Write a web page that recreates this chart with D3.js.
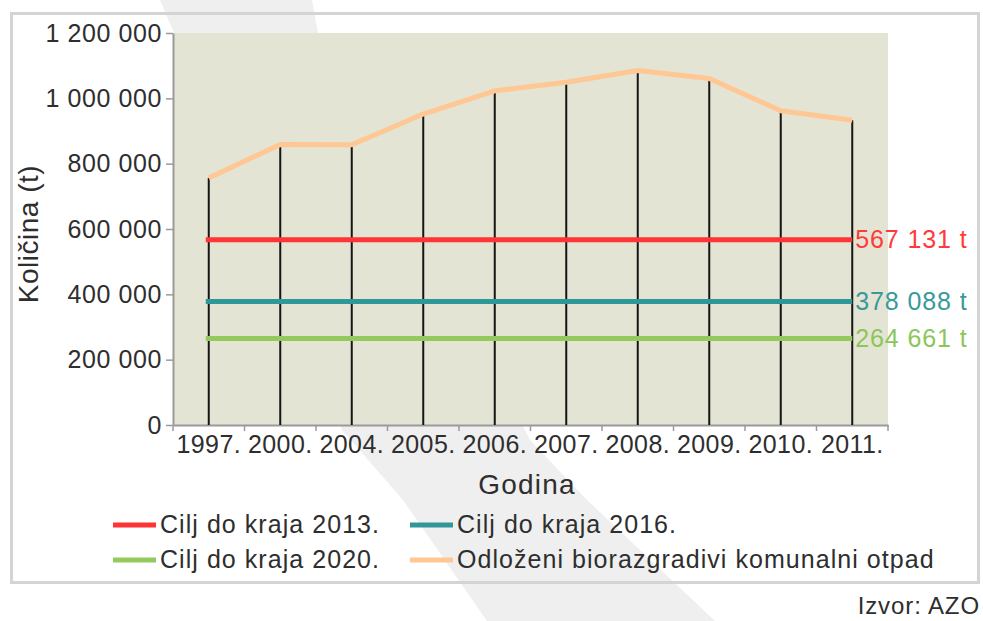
<!DOCTYPE html>
<html>
<head>
<meta charset="utf-8">
<script src="https://cdn.jsdelivr.net/npm/d3@7"></script>
<style>
  body { margin: 0; background: #fff; }
  svg { display: block; font-family: "Liberation Sans", Arial, sans-serif; }
</style>
</head>
<body>
<script>
// data
const years = ['1997.', '2000.', '2004.', '2005.', '2006.', '2007.', '2008.', '2009.', '2010.', '2011.'];
const otpad = [756000, 859000, 858000, 952000, 1023000, 1049000, 1085000, 1061000, 962000, 933000];
const targetNames = ['Cilj do kraja 2013.', 'Cilj do kraja 2016.', 'Cilj do kraja 2020.'];
const targetValues = [567131, 378088, 264661];
const targetLabels = ['567 131 t', '378 088 t', '264 661 t'];
const yTicks = [0, 200000, 400000, 600000, 800000, 1000000, 1200000];
const otpadName = 'Odloženi biorazgradivi komunalni otpad';

const W = 983, H = 621;
const plotL = 173, plotR = 888, plotT = 33, plotB = 425;
const targetColors = ['#ff3535', '#2f9797', '#95c95e'];
const labelColors = ['#ff3a3a', '#3a9999', '#8cc65a'];
const otpadColor = '#fec794';
const textColor = '#2e2e2e';

const svg = d3.select('body')
  .append('svg')
  .attr('width', W)
  .attr('height', H);

// watermark stripe in the background
svg.append('path')
  .attr('d', 'M160,0 L312,0 L318,33 L530,440 L587,500 L715,621 L487,621 L403,500 L342,430 Z')
  .attr('fill', '#efefef');

// outer frame
svg.append('rect')
  .attr('x', 11.5)
  .attr('y', 13.5)
  .attr('width', 967)
  .attr('height', 569)
  .attr('fill', 'none')
  .attr('stroke', '#d4d4d4')
  .attr('stroke-width', 3);

// plot background
svg.append('rect')
  .attr('x', plotL)
  .attr('y', plotT)
  .attr('width', plotR - plotL)
  .attr('height', plotB - plotT)
  .attr('fill', '#e4e4d4');

const x = d3.scaleBand()
  .domain(years)
  .range([plotL, plotR])
  .padding(0);

const y = d3.scaleLinear()
  .domain([0, 1200000])
  .range([plotB, plotT]);

const xc = d => x(d) + x.bandwidth() / 2;

// y axis
const yAxis = svg.append('g')
  .attr('transform', `translate(${plotL},0)`)
  .call(d3.axisLeft(y)
    .tickValues(yTicks)
    .tickSize(7)
    .tickSizeOuter(0)
    .tickPadding(4)
    .tickFormat(d => d3.format(',')(d).replace(/,/g, ' ')));
yAxis.select('.domain').attr('stroke', '#9a9a9a').attr('stroke-width', 2);
yAxis.selectAll('.tick line').attr('stroke', '#9a9a9a').attr('stroke-width', 1.5);
yAxis.selectAll('.tick text')
  .attr('fill', textColor)
  .attr('font-size', 25)
  .attr('letter-spacing', 0.6);

// x axis
const xAxis = svg.append('g')
  .attr('transform', `translate(0,${plotB})`)
  .call(d3.axisBottom(x)
    .tickSize(0)
    .tickSizeOuter(0)
    .tickPadding(10));
xAxis.select('.domain').attr('stroke', '#9a9a9a').attr('stroke-width', 2);
xAxis.selectAll('.tick text')
  .attr('fill', textColor)
  .attr('font-size', 25)
  .attr('letter-spacing', 0.4);

// small ticks on band edges
const edges = years.map(d => x(d)).concat([plotR]);
xAxis.selectAll('line.edge')
  .data(edges)
  .enter()
  .append('line')
  .attr('class', 'edge')
  .attr('x1', d => d)
  .attr('x2', d => d)
  .attr('y1', 0)
  .attr('y2', 6)
  .attr('stroke', '#9a9a9a')
  .attr('stroke-width', 1.5);

// axis titles
svg.append('text')
  .attr('transform', 'translate(38,234) rotate(-90)')
  .attr('text-anchor', 'middle')
  .attr('font-size', 28)
  .attr('letter-spacing', 0.5)
  .attr('fill', textColor)
  .text('Količina (t)');

svg.append('text')
  .attr('x', 527)
  .attr('y', 494)
  .attr('text-anchor', 'middle')
  .attr('font-size', 28)
  .attr('letter-spacing', 1.2)
  .attr('fill', textColor)
  .text('Godina');

// drop lines
svg.selectAll('line.drop')
  .data(otpad)
  .enter()
  .append('line')
  .attr('class', 'drop')
  .attr('x1', (d, i) => xc(years[i]))
  .attr('x2', (d, i) => xc(years[i]))
  .attr('y1', plotB)
  .attr('y2', d => y(d))
  .attr('stroke', '#151515')
  .attr('stroke-width', 2);

// target lines
const firstX = xc(years[0]) - 3;
const lastX = xc(years[years.length - 1]);
svg.selectAll('line.target')
  .data(targetValues)
  .enter()
  .append('line')
  .attr('class', 'target')
  .attr('x1', firstX)
  .attr('x2', lastX)
  .attr('y1', d => y(d))
  .attr('y2', d => y(d))
  .attr('stroke', (d, i) => targetColors[i])
  .attr('stroke-width', 5);

svg.selectAll('text.tlabel')
  .data(targetLabels)
  .enter()
  .append('text')
  .attr('class', 'tlabel')
  .attr('x', lastX + 3)
  .attr('y', (d, i) => y(targetValues[i]))
  .attr('dy', '0.35em')
  .attr('font-size', 25)
  .attr('letter-spacing', 0.9)
  .attr('fill', (d, i) => labelColors[i])
  .text(d => d);

// otpad line
svg.append('path')
  .datum(otpad)
  .attr('fill', 'none')
  .attr('stroke', otpadColor)
  .attr('stroke-width', 5)
  .attr('stroke-linejoin', 'round')
  .attr('d', d3.line()
    .x((d, i) => xc(years[i]))
    .y(d => y(d)));

// legend
const legendItems = [
  { name: targetNames[0], color: targetColors[0], col: 0, row: 0 },
  { name: targetNames[1], color: targetColors[1], col: 1, row: 0 },
  { name: targetNames[2], color: targetColors[2], col: 0, row: 1 },
  { name: otpadName, color: otpadColor, col: 1, row: 1 }
];
const legendX = [113, 410];
const legendY = [524, 559];

const lg = svg.selectAll('g.legend')
  .data(legendItems)
  .enter()
  .append('g')
  .attr('class', 'legend')
  .attr('transform', d => `translate(${legendX[d.col]},${legendY[d.row]})`);

lg.append('line')
  .attr('x1', 0)
  .attr('x2', 43)
  .attr('y1', 1)
  .attr('y2', 1)
  .attr('stroke', d => d.color)
  .attr('stroke-width', 5);

lg.append('text')
  .attr('x', 47)
  .attr('y', 0)
  .attr('dy', '0.35em')
  .attr('font-size', 25)
  .attr('letter-spacing', 1.05)
  .attr('fill', textColor)
  .text(d => d.name);

// source
svg.append('text')
  .attr('x', 980)
  .attr('y', 614)
  .attr('text-anchor', 'end')
  .attr('font-size', 24)
  .attr('letter-spacing', 0.9)
  .attr('fill', textColor)
  .text('Izvor: AZO');
</script>
</body>
</html>
